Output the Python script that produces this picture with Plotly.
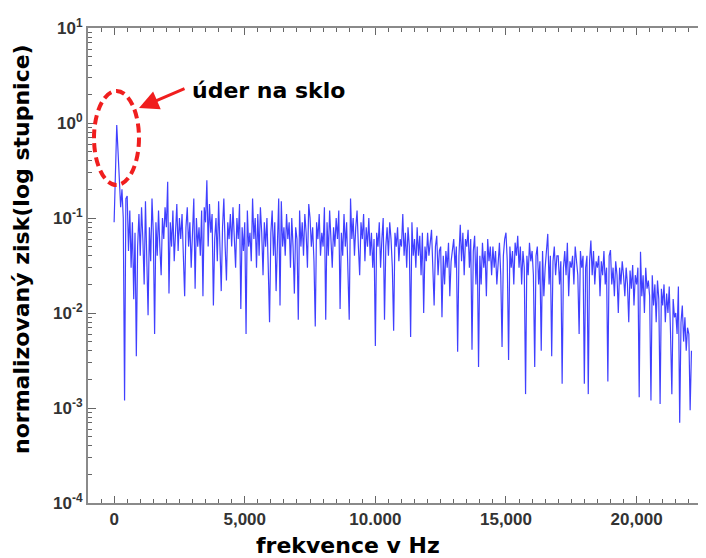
import plotly.graph_objects as go

# frequency bin spacing (Hz) and normalised gain values
freq_step_hz = 50
gain = [
    0.09, 0.35, 0.95, 0.5, 0.22, 0.13, 0.2, 0.1, 0.0012, 0.16,
    0.17, 0.045, 0.12, 0.03, 0.09, 0.014, 0.07, 0.0035, 0.05, 0.11,
    0.04, 0.13, 0.06, 0.02, 0.15, 0.05, 0.0095, 0.08, 0.035, 0.16,
    0.07, 0.006, 0.09, 0.04, 0.12, 0.05, 0.025, 0.1, 0.06, 0.13,
    0.08, 0.24, 0.016, 0.09, 0.05, 0.12, 0.035, 0.07, 0.14, 0.045,
    0.1, 0.06, 0.11, 0.04, 0.015, 0.08, 0.13, 0.05, 0.09, 0.03,
    0.07, 0.16, 0.018, 0.1, 0.05, 0.08, 0.04, 0.12, 0.015, 0.13,
    0.09, 0.25, 0.05, 0.14, 0.07, 0.11, 0.012, 0.06, 0.1, 0.035,
    0.15, 0.04, 0.017, 0.08, 0.16, 0.05, 0.022, 0.09, 0.06, 0.11,
    0.05, 0.13, 0.07, 0.03, 0.1, 0.06, 0.14, 0.011, 0.08, 0.045,
    0.09, 0.006, 0.12, 0.05, 0.07, 0.035, 0.16, 0.06, 0.1, 0.03,
    0.11, 0.04, 0.13, 0.07, 0.025, 0.09, 0.05, 0.1, 0.03, 0.008,
    0.07, 0.12, 0.04, 0.09, 0.017, 0.06, 0.16, 0.012, 0.15, 0.05,
    0.08, 0.04, 0.11, 0.06, 0.09, 0.03, 0.1, 0.05, 0.016, 0.08,
    0.06, 0.0085, 0.12, 0.05, 0.09, 0.04, 0.11, 0.07, 0.03, 0.14,
    0.1, 0.05, 0.08, 0.035, 0.0072, 0.09, 0.06, 0.11, 0.04, 0.07,
    0.05, 0.13, 0.0085, 0.09, 0.04, 0.12, 0.06, 0.03, 0.08, 0.05,
    0.1, 0.06, 0.12, 0.011, 0.07, 0.04, 0.11, 0.05, 0.09, 0.03,
    0.0085, 0.16, 0.06, 0.1, 0.04, 0.08, 0.12, 0.05, 0.025, 0.09,
    0.06, 0.11, 0.035, 0.08, 0.05, 0.1, 0.04, 0.07, 0.03, 0.06,
    0.0045, 0.07, 0.05, 0.09, 0.03, 0.06, 0.1, 0.0085, 0.05, 0.08,
    0.04, 0.09, 0.06, 0.03, 0.0065, 0.07, 0.05, 0.08, 0.035, 0.06,
    0.05, 0.11, 0.04, 0.07, 0.03, 0.08, 0.05, 0.0056, 0.09, 0.04,
    0.06, 0.03, 0.08, 0.04, 0.065, 0.025, 0.07, 0.01, 0.05, 0.035,
    0.07, 0.04, 0.06, 0.075, 0.03, 0.012, 0.05, 0.065, 0.025, 0.045,
    0.05, 0.009, 0.04, 0.02, 0.045, 0.03, 0.055, 0.015, 0.035, 0.05,
    0.06, 0.03, 0.05, 0.0039, 0.04, 0.085, 0.035, 0.07, 0.025, 0.06,
    0.05, 0.075, 0.03, 0.06, 0.0041, 0.045, 0.065, 0.02, 0.05, 0.0027,
    0.04, 0.02, 0.055, 0.03, 0.045, 0.015, 0.06, 0.035, 0.05, 0.025,
    0.05, 0.03, 0.045, 0.02, 0.04, 0.055, 0.025, 0.0044, 0.04, 0.06,
    0.07, 0.035, 0.0032, 0.05, 0.03, 0.045, 0.02, 0.055, 0.04, 0.065,
    0.03, 0.05, 0.02, 0.045, 0.03, 0.0014, 0.04, 0.025, 0.055, 0.035,
    0.045, 0.025, 0.0027, 0.04, 0.05, 0.02, 0.035, 0.004, 0.045, 0.015,
    0.03, 0.045, 0.068, 0.02, 0.04, 0.0035, 0.035, 0.05, 0.025, 0.04,
    0.04, 0.02, 0.035, 0.0018, 0.03, 0.045, 0.025, 0.055, 0.015, 0.035,
    0.03, 0.04, 0.02, 0.05, 0.035, 0.025, 0.006, 0.045, 0.03, 0.04,
    0.0018, 0.03, 0.04, 0.0014, 0.035, 0.058, 0.025, 0.045, 0.02, 0.035,
    0.03, 0.04, 0.015, 0.035, 0.025, 0.045, 0.02, 0.03, 0.0019, 0.04,
    0.046, 0.02, 0.03, 0.015, 0.035, 0.025, 0.01, 0.03, 0.02, 0.035,
    0.025, 0.015, 0.03, 0.02, 0.008, 0.028, 0.018, 0.032, 0.012, 0.025,
    0.02, 0.03, 0.0013, 0.044, 0.015, 0.025, 0.01, 0.03, 0.018, 0.022,
    0.015, 0.0012, 0.025, 0.012, 0.02, 0.008, 0.022, 0.014, 0.0011, 0.018,
    0.012, 0.02, 0.008, 0.016, 0.01, 0.019, 0.006, 0.0014, 0.014, 0.009,
    0.01, 0.006, 0.019, 0.0007, 0.008, 0.012, 0.005, 0.009, 0.004, 0.007,
    0.006, 0.00095, 0.004,
]
freq = [i * freq_step_hz for i in range(len(gain))]

x_tick_vals = [0, 5000, 10000, 15000, 20000]
x_tick_text = ["0", "5,000", "10.000", "15,000", "20,000"]
y_tick_vals = [1e-4, 1e-3, 1e-2, 1e-1, 1e0, 1e1]
y_tick_text = ["10<sup>-4</sup>", "10<sup>-3</sup>", "10<sup>-2</sup>",
               "10<sup>-1</sup>", "10<sup>0</sup>", "10<sup>1</sup>"]
x_title = "frekvence v Hz"
y_title = "normalizovaný zisk(log stupnice)"
note_text = "úder na sklo"

# the page adds an 8px body margin, so the figure is drawn 8px smaller/shifted
OFF = 8
W, H = 706 - OFF, 558 - OFF
L, R, T = 88 - OFF, 0, 28 - OFF
B = H - (503 - OFF)
pw, ph = W - L - R, H - T - B


def px(xp):  # page pixel -> paper x
    return (xp - OFF - L) / pw


def py(yp):  # page pixel -> paper y
    return (H - B - (yp - OFF)) / ph


fig = go.Figure()
fig.add_trace(go.Scatter(
    x=freq, y=gain, mode="lines",
    line=dict(color="rgba(0,0,255,0.75)", width=1.2),
    showlegend=False, hoverinfo="skip",
))

tickfont = dict(family="Liberation Sans, Arial", size=17, color="#333333", weight="bold")
axis_common = dict(
    showline=True, linecolor="#8a8a8a", linewidth=2,
    ticks="inside", tickcolor="#666666", tickwidth=1,
    showgrid=False, zeroline=False, tickfont=tickfont, automargin=False,
)

fig.update_xaxes(
    range=[-1000, 22657], tickvals=x_tick_vals, ticktext=x_tick_text,
    ticklen=7, mirror="allticks",
    minor=dict(ticks="inside", ticklen=4, dtick=500, tick0=0, tickcolor="#666666", showgrid=False),
    **axis_common,
)
fig.update_yaxes(
    type="log", range=[-4, 1], tickvals=y_tick_vals, ticktext=y_tick_text,
    ticklen=8, mirror=False,
    minor=dict(ticks="inside", ticklen=4, dtick="D1", tickcolor="#666666", showgrid=False),
    **axis_common,
)

title_font = dict(family="DejaVu Sans", size=22, color="black", weight="bold")

# ellipse around the strike peak
fig.add_shape(
    type="circle", xref="paper", yref="paper",
    x0=px(94), x1=px(139), y0=py(185), y1=py(91),
    line=dict(color="#f01e1e", width=4, dash="9px,5px"),
)

annotations = [
    dict(text=x_title, xref="paper", yref="paper", x=px(348), y=py(545),
         showarrow=False, font=title_font, xanchor="center", yanchor="middle"),
    dict(text=y_title, xref="paper", yref="paper", x=px(21), y=py(249),
         showarrow=False, font=title_font, textangle=-90,
         xanchor="center", yanchor="middle"),
    dict(text=note_text, xref="paper", yref="paper", x=px(190), y=py(90),
         showarrow=False, font=title_font, xanchor="left", yanchor="middle"),
    dict(text="", xref="paper", yref="paper", x=px(139), y=py(108),
         ax=47, ay=-20, showarrow=True, arrowhead=2, arrowsize=1.3,
         arrowwidth=3, arrowcolor="#f01e1e"),
]

fig.update_layout(
    width=W, height=H,
    margin=dict(l=L, r=R, t=T, b=B, pad=0),
    paper_bgcolor="white", plot_bgcolor="white",
    annotations=annotations,
    showlegend=False,
)

fig.write_html("out.html")
